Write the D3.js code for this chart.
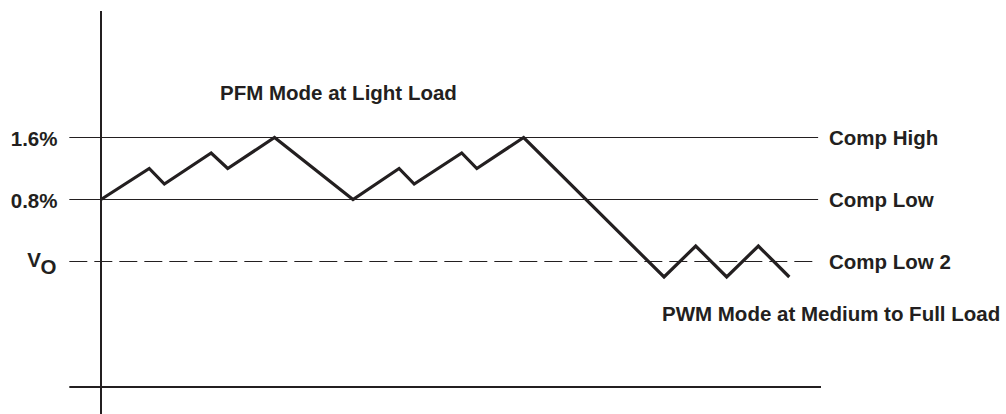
<!DOCTYPE html>
<html>
<head>
<meta charset="utf-8">
<script src="https://cdn.jsdelivr.net/npm/d3@7"></script>
<style>
  body { margin: 0; background: #fff; }
  text { font-family: "Liberation Sans", Arial, sans-serif; font-weight: bold; fill: #231f20; font-size: 20.5px; }
</style>
</head>
<body>
<div id="chart"></div>
<script>
// output ripple (% of Vo) against time, arbitrary units
var waveT = [0, 6.7, 8.8, 15.3, 17.6, 24.1, 35, 41.4, 43.5, 50.1, 52.2, 58.7, 78.2, 82.6, 86.9, 91.3, 95.6]
var waveV = [0.8, 1.2, 1.0, 1.4, 1.2, 1.6, 0.8, 1.2, 1.0, 1.4, 1.2, 1.6, -0.2, 0.2, -0.2, 0.2, -0.2]

var levelNames = ["Comp High", "Comp Low", "Comp Low 2"]
var levelValues = [1.6, 0.8, 0]
var levelDashed = [false, false, true]
var tickLabels = ["1.6%", "0.8%", "V"]

var modeLabels = ["PFM Mode at Light Load", "PWM Mode at Medium to Full Load"]

var width = 1006, height = 414
var ink = "#231f20"

var x = d3.scaleLinear().domain([0, 100]).range([101, 821])
var y = d3.scaleLinear().domain([0, 1.6]).range([261.5, 137.5])

var svg = d3.select("#chart").append("svg")
    .attr("width", width)
    .attr("height", height)

// axes
svg.append("line")
    .attr("x1", x(0)).attr("x2", x(0))
    .attr("y1", 11).attr("y2", height)
    .attr("stroke", ink).attr("stroke-width", 2)

svg.append("line")
    .attr("x1", x(-4.4)).attr("x2", x(100))
    .attr("y1", Math.round(y(-1.62))).attr("y2", Math.round(y(-1.62)))
    .attr("stroke", ink).attr("stroke-width", 2)

// comparator thresholds
svg.selectAll(".level")
    .data(levelValues)
  .enter().append("line")
    .attr("class", "level")
    .attr("x1", x(-4.4)).attr("x2", x(99.6))
    .attr("y1", function(d) { return y(d) })
    .attr("y2", function(d) { return y(d) })
    .attr("stroke", ink)
    .attr("stroke-width", 1.2)
    .attr("stroke-dasharray", function(d, i) { return levelDashed[i] ? "18,7" : null })

svg.selectAll(".levelName")
    .data(levelNames)
  .enter().append("text")
    .attr("class", "levelName")
    .attr("x", 829)
    .attr("y", function(d, i) { return y(levelValues[i]) + 7.5 })
    .text(function(d) { return d })

// left labels
svg.selectAll(".tickLabel")
    .data(tickLabels)
  .enter().append("text")
    .attr("class", "tickLabel")
    .attr("x", function(d, i) { return i == 2 ? 41 : 57.5 })
    .attr("y", function(d, i) { return y(levelValues[i]) + (i == 2 ? 5.5 : 8.5) })
    .attr("text-anchor", "end")
    .text(function(d) { return d })

svg.append("text")
    .attr("x", 40.5)
    .attr("y", y(0) + 12.5)
    .text("O")

// ripple waveform
var line = d3.line()
    .x(function(d) { return x(d) })
    .y(function(d, i) { return y(waveV[i]) })

svg.append("path")
    .datum(waveT)
    .attr("d", line)
    .attr("fill", "none")
    .attr("stroke", ink)
    .attr("stroke-width", 3.2)
    .attr("stroke-linejoin", "miter")

// mode annotations
svg.append("text")
    .attr("x", 220)
    .attr("y", 99.5)
    .text(modeLabels[0])

svg.append("text")
    .attr("x", 662)
    .attr("y", 320.5)
    .text(modeLabels[1])
</script>
</body>
</html>
